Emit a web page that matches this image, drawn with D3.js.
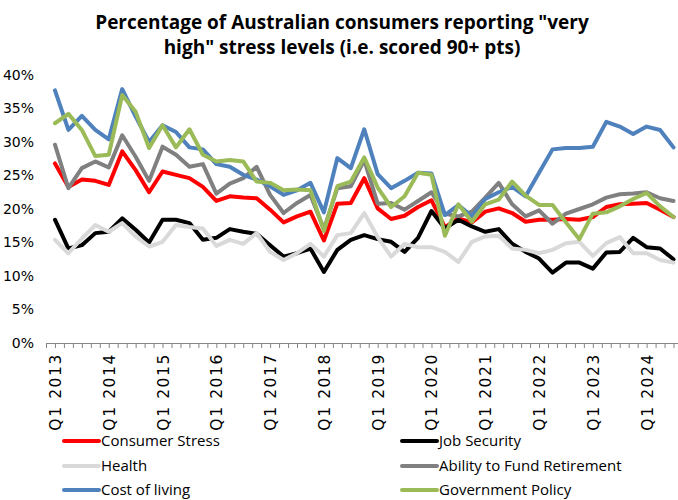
<!DOCTYPE html>
<html>
<head>
<meta charset="utf-8">
<script src="https://cdn.jsdelivr.net/npm/d3@7"></script>
<style>
  html, body { margin: 0; padding: 0; background: #fff; }
  svg { display: block; }
</style>
</head>
<body>
<svg id="chart" width="678" height="500"></svg>
<script>
// ---- Data (quarterly, Q1 2013 .. Q3 2024) ----
const years = [2013, 2014, 2015, 2016, 2017, 2018, 2019, 2020, 2021, 2022, 2023, 2024];
const quarterLabels = years.map(y => "Q1 " + y);
const yTicks = [0, 5, 10, 15, 20, 25, 30, 35, 40];

const consumerStress = [26.8, 23.3, 24.4, 24.2, 23.6, 28.6, 25.8, 22.5, 25.6, 25.1, 24.6, 23.3,
  21.2, 21.9, 21.7, 21.6, 19.9, 18.0, 18.9, 19.6, 15.3, 20.8, 20.9, 24.6,
  20.1, 18.5, 19.0, 20.3, 21.3, 17.3, 18.6, 18.0, 19.6, 20.1, 19.4, 18.1,
  18.4, 18.4, 18.5, 18.4, 18.8, 20.3, 20.7, 20.8, 20.9, 19.9, 18.8];
const jobSecurity = [18.4, 14.1, 14.6, 16.4, 16.6, 18.6, 16.9, 15.0, 18.4, 18.4, 17.9, 15.4,
  15.7, 17.0, 16.6, 16.3, 14.6, 12.9, 13.4, 14.1, 10.6, 13.9, 15.4, 16.1,
  15.5, 15.1, 13.6, 15.7, 19.7, 17.1, 18.4, 17.4, 16.6, 17.0, 14.8, 13.6,
  12.6, 10.5, 12.0, 12.0, 11.1, 13.5, 13.6, 15.7, 14.3, 14.1, 12.5];
const health = [15.4, 13.4, 15.6, 17.6, 16.6, 17.9, 15.9, 14.4, 15.1, 17.6, 17.3, 17.1,
  14.5, 15.4, 14.8, 16.4, 13.6, 12.4, 13.4, 14.8, 12.9, 16.1, 16.4, 19.4,
  15.8, 12.9, 14.8, 14.3, 14.3, 13.6, 12.1, 15.1, 15.9, 16.0, 14.1, 13.9,
  13.4, 13.9, 14.9, 15.1, 13.0, 14.9, 15.8, 13.4, 13.4, 12.4, 12.0];
const retirement = [29.6, 23.1, 26.1, 27.1, 26.2, 31.0, 27.8, 24.2, 29.3, 28.1, 26.3, 26.7,
  22.3, 23.8, 24.6, 26.3, 22.1, 19.4, 20.9, 22.1, 17.0, 23.1, 23.4, 27.3,
  20.8, 20.9, 19.9, 21.2, 22.5, 19.3, 18.9, 19.6, 21.7, 23.9, 20.7, 18.9,
  19.8, 17.8, 19.3, 20.0, 20.7, 21.7, 22.2, 22.3, 22.5, 21.6, 21.2];
const costOfLiving = [37.7, 31.8, 33.9, 31.8, 30.4, 37.9, 33.8, 30.0, 32.5, 31.5, 29.2, 28.9,
  26.7, 26.3, 25.1, 24.4, 23.4, 22.1, 22.8, 23.9, 19.5, 27.6, 26.1, 31.9,
  25.2, 23.1, 24.2, 25.4, 25.3, 19.1, 20.6, 18.9, 21.5, 22.5, 23.3, 21.9,
  25.4, 28.9, 29.1, 29.1, 29.3, 33.0, 32.3, 31.2, 32.3, 31.8, 29.2];
const govPolicy = [32.8, 34.2, 31.8, 27.9, 28.1, 37.0, 34.5, 29.1, 32.5, 29.2, 31.9, 28.1,
  27.1, 27.3, 27.1, 24.1, 23.9, 22.8, 22.9, 22.8, 16.7, 23.4, 24.1, 27.7,
  23.2, 20.3, 21.9, 25.4, 25.1, 16.0, 20.7, 18.1, 20.7, 21.4, 24.1, 22.0,
  20.6, 20.6, 18.0, 15.5, 19.3, 19.5, 20.4, 21.5, 22.4, 20.4, 18.8];

const seriesNames = ["Consumer Stress", "Job Security", "Health", "Ability to Fund Retirement", "Cost of living", "Government Policy"];
const seriesValues = [consumerStress, jobSecurity, health, retirement, costOfLiving, govPolicy];
const seriesColors = ["#FF0000", "#000000", "#D9D9D9", "#808080", "#4F81BD", "#9BBB59"];

// ---- Layout ----
const svg = d3.select("#chart");
const axisY = 343, topY = 75, leftX = 46, rightX = 678;

// x in months since Jan 2013 (Q1 2013 = 0)
const x = d3.scaleLinear().domain([-2, 139]).range([leftX, rightX]);
const y = d3.scaleLinear().domain([0, 40]).range([axisY, topY]);

// Title
const title = svg.append("text")
  .attr("x", 342).attr("y", 29)
  .attr("text-anchor", "middle")
  .style("font-family", "'Open Sans', sans-serif")
  .style("font-weight", "bold")
  .style("font-size", "19px")
  .attr("fill", "#000");
title.append("tspan").attr("x", 342).attr("dy", 0).text('Percentage of Australian consumers reporting "very');
title.append("tspan").attr("x", 342).attr("dy", 25).text('high" stress levels (i.e. scored 90+ pts)');

// Y axis (labels only)
const yAxis = d3.axisLeft(y).tickValues(yTicks).tickSize(0).tickPadding(0)
  .tickFormat(d => d + "%");
const gy = svg.append("g").attr("transform", "translate(34,0)").call(yAxis);
gy.select(".domain").remove();
gy.selectAll("text")
  .style("font-family", "'DejaVu Sans', sans-serif")
  .style("font-size", "14px")
  .attr("fill", "#000");

// X axis: minor ticks every two months
const tickMonths = d3.range(-2, 140, 2);
const xAxis = d3.axisBottom(x).tickValues(tickMonths).tickSize(5).tickFormat("");
const gx = svg.append("g").attr("transform", `translate(0,${axisY})`).call(xAxis);
gx.select(".domain").attr("stroke", "#868686").attr("d", `M${leftX},0.5H${rightX}`);
gx.selectAll(".tick line").attr("stroke", "#868686");

// X labels (rotated)
svg.append("g").selectAll("text")
  .data(years)
  .join("text")
  .attr("transform", (d, i) => `translate(${x(i * 12) + 6},${axisY + 10}) rotate(-90)`)
  .attr("text-anchor", "end")
  .style("font-family", "'DejaVu Sans', sans-serif")
  .style("font-size", "15.5px")
  .style("letter-spacing", "1.6px")
  .attr("fill", "#000")
  .text((d, i) => quarterLabels[i]);

// Lines
const line = d3.line()
  .x((d, i) => x(i * 3))
  .y(d => y(d));

svg.append("g").selectAll("path")
  .data(seriesValues)
  .join("path")
  .attr("d", d => line(d))
  .attr("fill", "none")
  .attr("stroke", (d, i) => seriesColors[i])
  .attr("stroke-width", 4)
  .attr("stroke-linejoin", "round")
  .attr("stroke-linecap", "round");

// Legend
const legendCols = [64, 402];
const legendRows = [441, 466, 490];
const lg = svg.append("g").selectAll("g")
  .data(seriesNames)
  .join("g")
  .attr("transform", (d, i) => `translate(${legendCols[i % 2]},${legendRows[Math.floor(i / 2)]})`);
lg.append("line")
  .attr("x1", 0).attr("x2", 35).attr("y1", 0).attr("y2", 0)
  .attr("stroke", (d, i) => seriesColors[i])
  .attr("stroke-width", 4)
  .attr("stroke-linecap", "round");
lg.append("text")
  .attr("x", 37).attr("y", 0)
  .attr("dy", "0.35em")
  .style("font-family", "'Open Sans', sans-serif")
  .style("font-size", "15px")
  .attr("fill", "#000")
  .text(d => d);
</script>
</body>
</html>
